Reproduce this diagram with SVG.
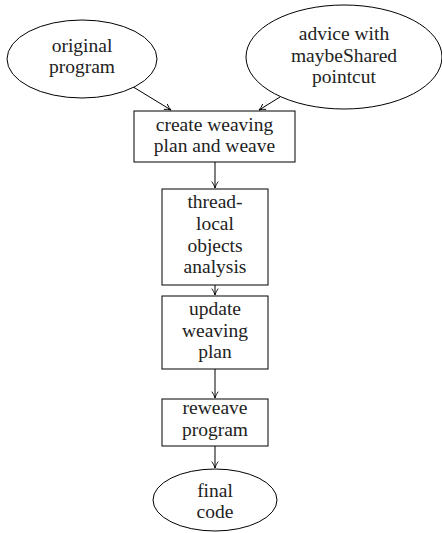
<svg xmlns="http://www.w3.org/2000/svg" width="442" height="533" viewBox="0 0 442 533">
<style>
.n{fill:#fff;stroke:#000;stroke-width:1}
.t{font-size:19.5px;fill:#222;text-anchor:middle}
.c{fill:none;stroke:#000;stroke-width:1}
</style>
<defs>
<marker id="a" viewBox="0 0 10 10" refX="9" refY="5" markerWidth="8" markerHeight="8" orient="auto" markerUnits="userSpaceOnUse">
<path d="M1,1 Q5,4 9,5 Q5,6 1,9" fill="none" stroke="#000" stroke-width="1.1"/>
</marker>
</defs>
<rect width="442" height="533" fill="#fff"/>
<g id="connectors">
<line class="c" x1="130" y1="85" x2="171" y2="110" marker-end="url(#a)"/>
<line class="c" x1="280" y1="97" x2="259" y2="110" marker-end="url(#a)"/>
<line class="c" x1="215" y1="162" x2="215" y2="188" marker-end="url(#a)"/>
<line class="c" x1="215" y1="285" x2="215" y2="295" marker-end="url(#a)"/>
<line class="c" x1="215" y1="369" x2="215" y2="398" marker-end="url(#a)"/>
<line class="c" x1="215" y1="446" x2="215" y2="468" marker-end="url(#a)"/>
</g>
<g id="original">
<ellipse class="n" cx="82" cy="59" rx="75" ry="39"/>
<text class="t" x="82" y="52" font-family="Liberation Serif">original</text>
<text class="t" x="82" y="73" font-family="Liberation Serif">program</text>
</g>
<g id="advice">
<ellipse class="n" cx="344" cy="57" rx="98" ry="52"/>
<text class="t" x="344" y="40" font-family="Liberation Serif">advice with</text>
<text class="t" x="344" y="62" font-family="Liberation Serif">maybeShared</text>
<text class="t" x="344" y="83" font-family="Liberation Serif">pointcut</text>
</g>
<g id="create">
<rect class="n" x="134" y="111" width="161" height="51"/>
<text class="t" x="214.5" y="131" font-family="Liberation Serif">create weaving</text>
<text class="t" x="214.5" y="152" font-family="Liberation Serif">plan and weave</text>
</g>
<g id="analysis">
<rect class="n" x="162" y="189" width="106" height="96"/>
<text class="t" x="215" y="208" font-family="Liberation Serif">thread-</text>
<text class="t" x="215" y="230" font-family="Liberation Serif">local</text>
<text class="t" x="215" y="252" font-family="Liberation Serif">objects</text>
<text class="t" x="215" y="273" font-family="Liberation Serif">analysis</text>
</g>
<g id="update">
<rect class="n" x="162" y="296" width="106" height="73"/>
<text class="t" x="215" y="315" font-family="Liberation Serif">update</text>
<text class="t" x="215" y="337" font-family="Liberation Serif">weaving</text>
<text class="t" x="215" y="358" font-family="Liberation Serif">plan</text>
</g>
<g id="reweave">
<rect class="n" x="162" y="399" width="106" height="47"/>
<text class="t" x="215" y="414" font-family="Liberation Serif">reweave</text>
<text class="t" x="215" y="436" font-family="Liberation Serif">program</text>
</g>
<g id="final">
<ellipse class="n" cx="215" cy="500" rx="62" ry="31"/>
<text class="t" x="215" y="497" font-family="Liberation Serif">final</text>
<text class="t" x="215" y="518" font-family="Liberation Serif">code</text>
</g>
</svg>
